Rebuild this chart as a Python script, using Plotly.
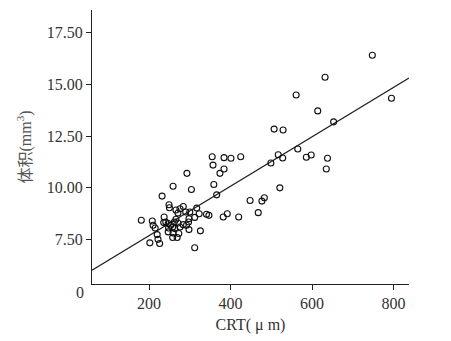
import plotly.graph_objects as go

crt = [748, 632, 561, 795, 614, 653, 507, 529, 565, 586, 598, 638, 635, 521, 517, 499, 528,
       355, 384, 401, 425, 357, 384, 374, 359, 366, 448, 483, 477, 468, 382, 392, 420,
       181, 208, 210, 215, 220, 222, 226, 202, 232, 259, 293, 304, 249, 250, 266, 276, 284,
       290, 271, 300, 317, 323, 341, 347, 312, 298, 237, 241, 236, 247, 253, 258, 262, 266,
       271, 284, 292, 297, 298, 276, 248, 247, 259, 258, 269, 273, 263, 326, 312]
vol = [16.41, 15.35, 14.49, 14.33, 13.72, 13.19, 12.84, 12.80, 11.88, 11.48, 11.59, 11.43, 10.91, 10.0, 11.6, 11.2, 11.44,
       11.5, 11.46, 11.43, 11.5, 11.1, 10.91, 10.7, 10.16, 9.66, 9.39, 9.52, 9.36, 8.8, 8.59, 8.75, 8.59,
       8.43, 8.40, 8.19, 8.06, 7.74, 7.51, 7.31, 7.34, 9.60, 10.08, 10.7, 9.92, 9.18, 9.04, 8.93, 8.99, 9.1,
       8.83, 8.78, 8.83, 9.02, 8.75, 8.72, 8.67, 8.57, 8.51, 8.59, 8.35, 8.32, 8.27, 8.19, 8.11, 8.35, 8.48,
       8.30, 8.22, 8.19, 8.35, 7.98, 8.11, 8.06, 7.87, 7.82, 7.6, 7.6, 7.79, 8.03, 7.92, 7.1]

intercept = 5.30
slope = 0.01195

x_range = [60, 838]
y_range = [5.35, 18.6]
y_ticks = [7.5, 10.0, 12.5, 15.0, 17.5]
y_tick_text = ["7.50", "10.00", "12.50", "15.00", "17.50"]
x_ticks = [200, 400, 600, 800]

line_x = x_range
line_y = [intercept + slope * v for v in line_x]

fig = go.Figure()
fig.add_trace(go.Scatter(x=line_x, y=line_y, mode="lines",
                         line=dict(color="#222", width=1.3), hoverinfo="skip"))
fig.add_trace(go.Scatter(x=crt, y=vol, mode="markers",
                         marker=dict(symbol="circle-open", size=6, color="#111",
                                     line=dict(width=1.1, color="#111"))))

font_serif = "Liberation Serif, Times New Roman, serif"
fig.update_layout(
    width=451, height=341,
    margin=dict(l=92, r=42, t=10, b=55),
    paper_bgcolor="white", plot_bgcolor="white",
    showlegend=False,
    font=dict(family=font_serif, size=16, color="#333"),
    xaxis=dict(range=x_range, tickvals=x_ticks, showgrid=False, zeroline=False,
               showline=True, linecolor="#222", linewidth=1.3,
               ticks="outside", ticklen=5, tickcolor="#222",
               title=dict(text="CRT( μ m)", standoff=7, font=dict(size=16, color="#333"))),
    yaxis=dict(range=y_range, tickvals=y_ticks, ticktext=y_tick_text, showgrid=False,
               zeroline=False, showline=True, linecolor="#222", linewidth=1.3,
               ticks="outside", ticklen=5, tickcolor="#222",
               title=dict(text="体积(mm<sup>3</sup>)", standoff=11,
                          font=dict(family="Liberation Serif, Noto Sans CJK SC, serif", size=16, color="#555"))),
)
fig.add_annotation(text="0", xref="paper", yref="paper", x=0, y=0,
                   xanchor="center", yanchor="middle", xshift=-12, yshift=-8,
                   showarrow=False, font=dict(size=16, color="#333"))

fig.write_html("out.html")
